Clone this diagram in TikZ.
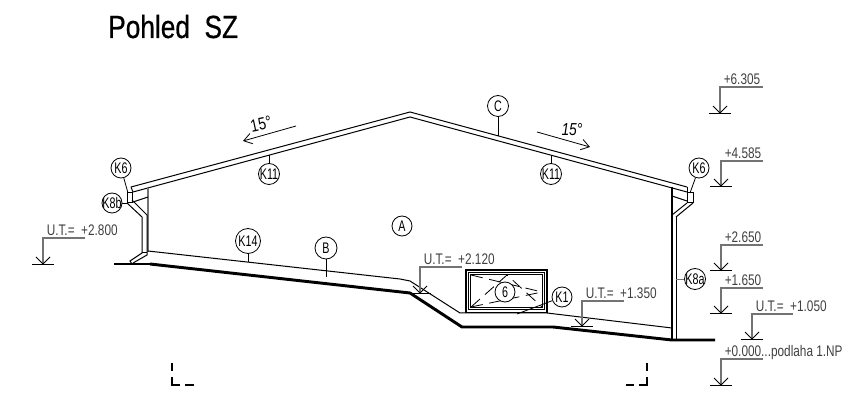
\documentclass[tikz,border=0pt]{standalone}
\usepackage{fontspec}
\setmainfont{Liberation Sans}
\usetikzlibrary{arrows.meta}
\definecolor{leader}{gray}{0.45}
\tikzset{
 x=0.75pt,y=-0.75pt,
 thin line/.style={line width=0.75pt,black},
 heavy line/.style={line width=2.2pt,black},
 level line/.style={line width=0.8pt,leader},
 leader tick/.style={line width=0.6pt},
 tag/.style={circle,draw=black,line width=0.6pt,inner sep=0pt,minimum size=#1*0.75pt,font=\fontsize{11.5}{11.5}\selectfont\addfontfeatures{FakeStretch=0.7},fill=white},
 dim/.style={font=\fontsize{11.5}{12}\selectfont\addfontfeatures{FakeStretch=0.77},inner sep=0pt,anchor=base west,text=black!75},
 slope/.style={line width=0.6pt,-{Straight Barb[length=6pt,width=8pt,line width=0.6pt]}},
}
\newcommand{\tagtxt}[1]{\makebox[0pt][c]{#1}}
\newcommand{\lvlmark}[5]{% x, y hor, y base, x end, text
 \coordinate (h#1#2) at (#1,#2);
 \coordinate (e#1#2) at (#4,#2);
 \coordinate (b#1#2) at (#1,#3);
 \draw[level line] (e#1#2) -- (h#1#2) -- (b#1#2);
 \draw[line width=0.6pt] (#1-11,#3) -- (#1+11,#3);
 \draw[line width=0.6pt] (#1-7,#3-7) -- (#1,#3) -- (#1+7,#3-7);
 \node[dim] (t#1#2) at (#1+3.5,#2-2) {#5};
}
\begin{document}
\begin{tikzpicture}
\useasboundingbox (0,0) rectangle (860,409);
\node[inner sep=0pt,anchor=base west,font=\fontsize{24}{24}\selectfont\addfontfeatures{FakeStretch=0.82,FakeBold=0.6}] (title) at (108,38) {Pohled\ \ SZ};

% roof
\draw[thin line] (131,187) -- (410,112) -- (687,187);
\draw[thin line] (133,192) -- (410,117) -- (687,192);
\draw[thin line] (131,187) -- (133,192);
\draw[thin line] (687,187) -- (687,192);
% walls
\draw[line width=0.9pt,leader] (148,188) -- (148,252);
\draw[line width=1.6pt] (672,187) -- (672,340);
\draw[thin line] (676,217) -- (676,340);
% soffits
\draw[thin line] (133,202) -- (148,197);
\draw[thin line] (672,196) -- (687,201);
% left gutter and downpipe
\draw[thin line] (127,193) rectangle (132,203);
\draw[thin line] (127,203) -- (142,217) -- (142,253) -- (130,261) -- (132,264);
\draw[thin line] (132,200) -- (147,215) -- (147,255) -- (133,263);
\draw[thin line] (142,253) -- (147,253);
% right gutter and downpipe
\draw[thin line] (687,193) rectangle (693,203);
\draw[thin line] (672,215) -- (687,203);
\draw[thin line] (676,217) -- (693,203);
% ground
\draw[heavy line] (114,264) -- (131,264);
\draw[line width=1pt] (131,264) -- (150,264);
\draw[heavy line] (150,264) -- (410,293) -- (462,327) -- (553,327) -- (672,340) -- (715,340);
\draw[thin line] (148,251) -- (400,279) -- (410,281) -- (460,313) -- (547,313) -- (672,328);
% window
\draw[line width=1.2pt] (466,270) rectangle (547,312.5);
\draw[line width=0.5pt] (468.5,272.5) rectangle (544.5,309.5);
\draw[line width=0.5pt] (470.5,274.5) rectangle (542.5,307.5);
\draw[line width=0.6pt,dash pattern=on 9pt off 5pt] (471,307) -- (507,275) -- (542,307);
\draw[line width=0.6pt,dash pattern=on 9pt off 5pt] (471,275) -- (542,292);
\draw[line width=0.6pt,dash pattern=on 9pt off 5pt] (471,307) -- (542,292);
% tags
\node[tag=20] (k6l) at (121,168) {\tagtxt{K6}};
\node[tag=20] (k8b) at (112,203) {\tagtxt{K8b}};
\node[tag=21] (k11l) at (269,174) {\tagtxt{K11}};
\node[tag=21] (k11r) at (551,174) {\tagtxt{K11}};
\node[tag=21] (c) at (498,106) {\tagtxt{C}};
\node[tag=25] (k14) at (248,241) {\tagtxt{K14}};
\node[tag=22] (b) at (326,248) {\tagtxt{B}};
\node[tag=20] (a) at (402,226) {\tagtxt{A}};
\node[tag=20] (k6r) at (699,168) {\tagtxt{K6}};
\node[tag=21] (k8a) at (695,279) {\tagtxt{K8a}};
\node[tag=20] (six) at (505,292) {\tagtxt{6}};
\node[tag=20] (k1) at (562,297) {\tagtxt{K1}};
\coordinate (k6lend) at (128,193);
\coordinate (k8bend) at (127,203);
\coordinate (k11lend) at (269,155);
\coordinate (k11rend) at (551,155);
\coordinate (cend) at (498,136);
\coordinate (k14end) at (248,262);
\coordinate (bend) at (326,277);
\coordinate (k6rend) at (690,193);
\coordinate (k8aend) at (676,279);
\coordinate (k1end) at (517,314);
\draw[leader tick] (k6l) -- (k6lend);
\draw[leader tick] (k8b) -- (k8bend);
\draw[leader tick] (k11l) -- (k11lend);
\draw[leader tick] (k11r) -- (k11rend);
\draw[leader tick] (c) -- (cend);
\draw[leader tick] (k14) -- (k14end);
\draw[leader tick] (b) -- (bend);
\draw[leader tick] (k6r) -- (k6rend);
\draw[leader tick,leader] (k8a) -- (k8aend);
\draw[leader tick] (k1) -- (k1end);
% slope arrows
\coordinate (s1a) at (296,126); \coordinate (s1b) at (243,141);
\coordinate (s2a) at (537,132); \coordinate (s2b) at (590,147);
\draw[slope] (s1a) -- (s1b);
\draw[slope] (s2a) -- (s2b);
\node[font=\fontsize{13}{13}\selectfont\addfontfeatures{FakeStretch=0.8},inner sep=0pt,rotate=12] (s1t) at (261,124) {15°};
\node[font=\fontsize{13}{13}\selectfont\itshape\addfontfeatures{FakeStretch=0.8},inner sep=0pt] (s2t) at (572,130) {15°};
% levels
\lvlmark{720}{87}{113}{763}{+6.305}
\lvlmark{721}{161}{186}{763}{+4.585}
\lvlmark{721}{245}{270}{763}{+2.650}
\lvlmark{721}{288}{313}{763}{+1.650}
\lvlmark{752}{314}{339}{793}{U.T.=\ \ +1.050}
\lvlmark{721}{359}{385}{763}{+0.000...podlaha 1.NP}
\lvlmark{43}{238}{264}{85}{U.T.=\ \ +2.800}
\lvlmark{420}{267}{293}{462}{U.T.=\ \ +2.120}
\lvlmark{582}{301}{326}{624}{U.T.=\ \ +1.350}
% corner marks
\draw[line width=0.8pt] (172,363) -- (172,371);
\draw[line width=0.8pt] (172,377) -- (172,385) -- (180,385);
\draw[line width=0.8pt] (185,385) -- (194,385);
\draw[line width=0.8pt] (647,363) -- (647,371);
\draw[line width=0.8pt] (647,377) -- (647,385) -- (639,385);
\draw[line width=0.8pt] (634,385) -- (626,385);
\end{tikzpicture}
\end{document}
